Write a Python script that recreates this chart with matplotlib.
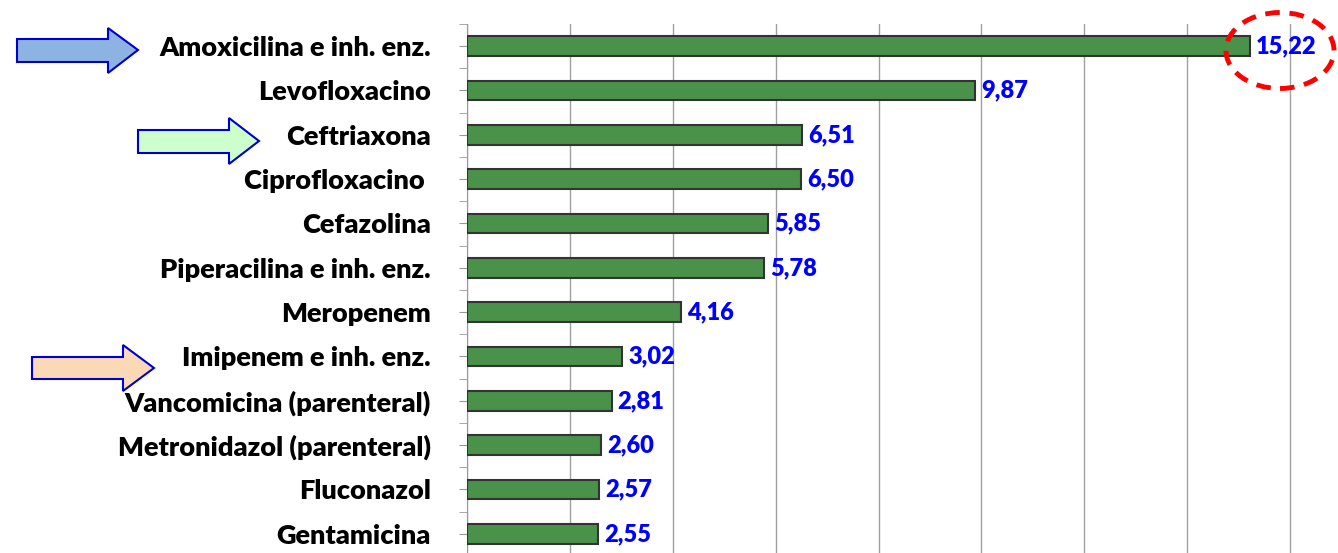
import matplotlib
matplotlib.use("Agg")
import matplotlib.pyplot as plt
from matplotlib.patches import Polygon, Ellipse
from matplotlib.ticker import FixedLocator

categories = ["Amoxicilina e inh. enz.", "Levofloxacino", "Ceftriaxona",
              "Ciprofloxacino ", "Cefazolina", "Piperacilina e inh. enz.",
              "Meropenem", "Imipenem e inh. enz.", "Vancomicina (parenteral)",
              "Metronidazol (parenteral)", "Fluconazol", "Gentamicina"]
values = [15.22, 9.87, 6.51, 6.50, 5.85, 5.78, 4.16, 3.02, 2.81, 2.60, 2.57, 2.55]

W, H = 1338, 553
plt.rcParams['font.family'] = ['Lato', 'DejaVu Sans']
fig = plt.figure(figsize=(W / 100, H / 100), dpi=100)

ax_left, ax_right = 467, 1393
ax_top, ax_bottom = 24, 556
ax = fig.add_axes([ax_left / W, 1 - ax_bottom / H,
                   (ax_right - ax_left) / W, (ax_bottom - ax_top) / H])

ypos = list(range(len(categories)))
ax.barh(ypos, values, height=0.45, color='#4a914a', edgecolor='#333333',
        linewidth=1.5, zorder=3)
for y, v in zip(ypos, values):
    ax.text(v + 0.12, y, f"{v:.2f}".replace('.', ','), color='#0000ff',
            fontsize=17, fontweight='heavy', va='center', ha='left', zorder=4)

ax.set_xlim(0, 18)
ax.set_ylim(len(categories) - 0.5, -0.5)
ax.set_xticks(range(0, 19, 2))
ax.xaxis.grid(True, color='#a0a0a0', linewidth=1, zorder=0)
ax.tick_params(axis='x', length=0, labelbottom=False)
ax.set_yticks(ypos)
ax.set_yticklabels(categories, fontsize=19.5, fontweight='heavy')
ax.yaxis.set_minor_locator(FixedLocator([i - 0.5 for i in range(len(categories) + 1)]))
ax.tick_params(axis='y', which='both', length=6, color='#999999', direction='out')
ax.tick_params(axis='y', which='major', pad=20)
for s in ['top', 'right', 'bottom']:
    ax.spines[s].set_visible(False)
ax.spines['left'].set_color('#999999')


def px(x, y):
    return (x / W, 1 - y / H)


def arrow(x0, body_top, body_bot, head_x, head_top, head_bot, tip_x, tip_y, fc):
    pts = [(x0, body_top), (head_x, body_top), (head_x, head_top), (tip_x, tip_y),
           (head_x, head_bot), (head_x, body_bot), (x0, body_bot)]
    fig.patches.append(Polygon([px(*p) for p in pts], closed=True,
                               transform=fig.transFigure, facecolor=fc,
                               edgecolor='#0000cc', linewidth=1.5))


arrow(17, 39, 62, 108, 28, 73, 138, 50, '#8db3e2')
arrow(138, 130, 153, 229, 118, 164, 259, 141, '#ccffcc')
arrow(32, 357, 379, 123, 345, 391, 154, 368, '#fcd9b6')

fig.patches.append(Ellipse(px(1280, 50.5), 108 / W, 76 / H,
                           transform=fig.transFigure, fill=False,
                           edgecolor='#ff0000', linewidth=3.5,
                           linestyle=(0, (3, 2))))

fig.savefig("out.png", dpi=100)
